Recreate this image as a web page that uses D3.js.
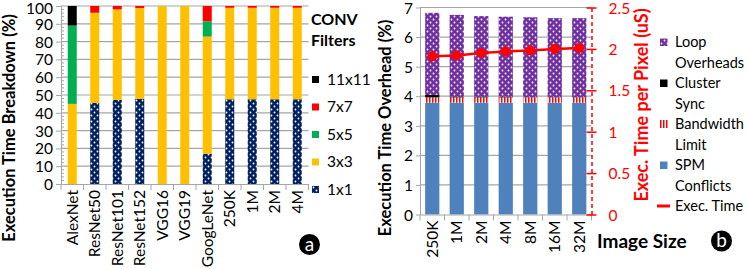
<!DOCTYPE html>
<meta charset="utf-8">
<style>
  body { margin: 0; background: #fff; }
  text { font-family: Lato, "Liberation Sans", sans-serif; }
  .grid line { stroke: #a6a6a6; stroke-width: 1.2; }
  .axis path, .axis line { stroke: #a6a6a6; }
</style>
<body>
<svg id="chart" width="748" height="269"></svg>
<script src="https://d3js.org/d3.v7.min.js"></script>
<script>
  // ---- panel a: CONV filter breakdown (%)
  var netNames = ["AlexNet", "ResNet50", "ResNet101", "ResNet152", "VGG16", "VGG19", "GoogLeNet", "250K", "1M", "2M", "4M"];
  var f1x1 = [0, 45.5, 47.2, 47.8, 0, 0, 17, 47.6, 47.6, 47.6, 47.6];
  var f3x3 = [45, 50.7, 50.9, 51.1, 100, 100, 65.8, 51.4, 51.4, 51.4, 51.4];
  var f5x5 = [44, 0, 0, 0, 0, 0, 8.6, 0, 0, 0, 0];
  var f7x7 = [0, 3.8, 1.9, 1.1, 0, 0, 8.6, 1, 1, 1, 1];
  var f11x11 = [11, 0, 0, 0, 0, 0, 0, 0, 0, 0, 0];
  var filterKeys = ["1x1", "3x3", "5x5", "7x7", "11x11"];
  var ticksA = [0, 10, 20, 30, 40, 50, 60, 70, 80, 90, 100];

  // ---- panel b: overhead vs image size
  var sizes = ["250K", "1M", "2M", "4M", "8M", "16M", "32M"];
  var spmConflicts = [3.78, 3.78, 3.78, 3.78, 3.78, 3.78, 3.78];
  var bwLimit = [0.18, 0.18, 0.18, 0.18, 0.18, 0.18, 0.18];
  var clusterSync = [0.08, 0.03, 0.03, 0.02, 0.01, 0.01, 0.01];
  var loopOverheads = [2.78, 2.76, 2.72, 2.71, 2.70, 2.67, 2.67];
  var execTime = [1.91, 1.92, 1.95, 1.97, 1.98, 2.0, 2.01];
  var overheadKeys = ["SPM Conflicts", "Bandwidth Limit", "Cluster Sync", "Loop Overheads"];
  var ticksB = [0, 1, 2, 3, 4, 5, 6, 7];
  var ticksB2 = [0, 0.5, 1, 1.5, 2, 2.5];

  var FS = 15.5; // tick / legend font size

  var svg = d3.select("#chart");
  var defs = svg.append("defs");

  function dots(id, color) {
    var p = defs.append("pattern").attr("id", id)
      .attr("patternUnits", "userSpaceOnUse").attr("width", 6).attr("height", 6);
    p.append("rect").attr("width", 6).attr("height", 6).attr("fill", color);
    p.append("circle").attr("cx", 1.5).attr("cy", 1.5).attr("r", 0.9).attr("fill", "#fff");
    p.append("circle").attr("cx", 4.5).attr("cy", 4.5).attr("r", 0.9).attr("fill", "#fff");
  }
  dots("dotNavy", "#002060");
  dots("dotPurple", "#7030a0");
  var st = defs.append("pattern").attr("id", "stripes")
    .attr("patternUnits", "userSpaceOnUse").attr("width", 3).attr("height", 3);
  st.append("rect").attr("width", 3).attr("height", 3).attr("fill", "#fff");
  st.append("rect").attr("width", 1.5).attr("height", 3).attr("fill", "#ff0000");

  var filterColor = {
    "1x1": "url(#dotNavy)", "3x3": "#ffc000", "5x5": "#00b050", "7x7": "#ff0000", "11x11": "#000"
  };
  var overheadColor = {
    "SPM Conflicts": "#4f81bd", "Bandwidth Limit": "url(#stripes)",
    "Cluster Sync": "#000", "Loop Overheads": "url(#dotPurple)"
  };

  // ================= panel a =================
  var A = { left: 61, right: 308.5, top: 6, bottom: 184 };
  var xa = d3.scaleBand().domain(netNames).range([A.left, A.right]);
  var ya = d3.scaleLinear().domain([0, 100]).range([A.bottom, A.top]);

  var tableA = netNames.map(function(n, i) {
    return { name: n, "1x1": f1x1[i], "3x3": f3x3[i], "5x5": f5x5[i], "7x7": f7x7[i], "11x11": f11x11[i] };
  });

  svg.append("g").attr("class", "grid")
    .selectAll("line").data(ticksA.slice(1)).enter().append("line")
    .attr("x1", A.left).attr("x2", A.right)
    .attr("y1", function(d) { return ya(d); }).attr("y2", function(d) { return ya(d); });

  // minor ticks inside the axis
  svg.append("g").selectAll("line").data(d3.range(2, 100, 2).filter(function(d) { return d % 10; }))
    .enter().append("line")
    .attr("x1", A.left).attr("x2", A.left + 3)
    .attr("y1", function(d) { return ya(d); }).attr("y2", function(d) { return ya(d); })
    .attr("stroke", "#a6a6a6");

  svg.append("g").selectAll("g").data(d3.stack().keys(filterKeys)(tableA)).enter()
    .append("g").attr("fill", function(d) { return filterColor[d.key]; })
    .selectAll("rect").data(function(d) { return d; }).enter().append("rect")
    .attr("x", function(d) { return xa(d.data.name) + xa.bandwidth() * 0.3; })
    .attr("width", xa.bandwidth() * 0.4)
    .attr("y", function(d) { return ya(d[1]); })
    .attr("height", function(d) { return ya(d[0]) - ya(d[1]); });

  svg.append("g").attr("class", "axis")
    .attr("transform", "translate(" + A.left + ",0)")
    .call(d3.axisLeft(ya).tickValues(ticksA).tickSize(5).tickSizeOuter(0))
    .call(function(g) {
      g.selectAll("text").attr("font-size", FS).attr("fill", "#000").attr("dy", "0.36em")
        .attr("y", function(d) { return d === 100 ? 1.5 : 0; });
    });

  var xAxisA = svg.append("g").attr("class", "axis")
    .attr("transform", "translate(0," + A.bottom + ")")
    .call(d3.axisBottom(xa).tickSize(0).tickSizeOuter(0));
  xAxisA.selectAll("text")
    .attr("font-size", FS).attr("fill", "#000")
    .attr("transform", "rotate(-90)")
    .attr("text-anchor", "end")
    .attr("x", -6).attr("y", 0).attr("dy", "0.35em");
  xAxisA.selectAll(".bnd").data(d3.range(netNames.length + 1)).enter().append("line")
    .attr("x1", function(i) { return A.left + i * xa.step(); })
    .attr("x2", function(i) { return A.left + i * xa.step(); })
    .attr("y1", 0).attr("y2", 6);

  svg.append("text")
    .attr("transform", "translate(15,128) rotate(-90)")
    .attr("text-anchor", "middle").attr("font-size", 16.5).attr("font-weight", "bold")
    .text("Execution Time Breakdown (%)");

  var legA = svg.append("g");
  legA.append("text").attr("x", 311).attr("y", 25).attr("font-size", 16).attr("font-weight", "bold").text("CONV");
  legA.append("text").attr("x", 311).attr("y", 46).attr("font-size", 16).attr("font-weight", "bold").text("Filters");
  var legRows = filterKeys.slice().reverse();
  legRows.forEach(function(k, i) {
    var cy = 79.5 + i * 27.5;
    legA.append("rect").attr("x", 312).attr("y", cy - 3.5).attr("width", 7).attr("height", 7)
      .attr("fill", filterColor[k]);
    legA.append("text").attr("x", 327).attr("y", cy).attr("dy", "0.35em").attr("font-size", FS).text(k);
  });

  function badge(cx, cy, letter) {
    svg.append("circle").attr("cx", cx).attr("cy", cy).attr("r", 10.5).attr("fill", "#000");
    svg.append("text").attr("x", cx).attr("y", cy).attr("dy", "0.33em")
      .attr("text-anchor", "middle").attr("font-size", 19).attr("fill", "#fff").text(letter);
  }
  badge(309.5, 244.5, "a");

  // ================= panel b =================
  var B = { left: 420, right: 591.5, top: 7.5, bottom: 214.5 };
  var xb = d3.scaleBand().domain(sizes).range([B.left, B.right]);
  var yb = d3.scaleLinear().domain([0, 7]).range([B.bottom, B.top]);
  var yb2 = d3.scaleLinear().domain([0, 2.5]).range([B.bottom, B.top]);

  var tableB = sizes.map(function(s, i) {
    return { size: s, "SPM Conflicts": spmConflicts[i], "Bandwidth Limit": bwLimit[i],
      "Cluster Sync": clusterSync[i], "Loop Overheads": loopOverheads[i] };
  });

  svg.append("g").attr("class", "grid")
    .selectAll("line").data(ticksB.slice(1)).enter().append("line")
    .attr("x1", B.left).attr("x2", B.right)
    .attr("y1", function(d) { return yb(d); }).attr("y2", function(d) { return yb(d); });

  svg.append("g").selectAll("g").data(d3.stack().keys(overheadKeys)(tableB)).enter()
    .append("g").attr("fill", function(d) { return overheadColor[d.key]; })
    .selectAll("rect").data(function(d) { return d; }).enter().append("rect")
    .attr("x", function(d) { return xb(d.data.size) + xb.bandwidth() * 0.21; })
    .attr("width", xb.bandwidth() * 0.58)
    .attr("y", function(d) { return yb(d[1]); })
    .attr("height", function(d) { return yb(d[0]) - yb(d[1]); });

  svg.append("g").attr("class", "axis")
    .attr("transform", "translate(" + B.left + ",0)")
    .call(d3.axisLeft(yb).tickValues(ticksB).tickFormat(d3.format("d")).tickSize(4).tickSizeOuter(0))
    .call(function(g) {
      g.selectAll("text").attr("font-size", FS).attr("fill", "#000").attr("dy", "0.36em");
    });

  var xAxisB = svg.append("g").attr("class", "axis")
    .attr("transform", "translate(0," + B.bottom + ")")
    .call(d3.axisBottom(xb).tickSize(0).tickSizeOuter(0));
  xAxisB.selectAll("text")
    .attr("font-size", FS).attr("fill", "#000")
    .attr("transform", "rotate(-90)")
    .attr("text-anchor", "end")
    .attr("x", -6).attr("y", 0).attr("dy", "0.35em");
  xAxisB.selectAll(".bnd").data(d3.range(sizes.length + 1)).enter().append("line")
    .attr("x1", function(i) { return B.left + i * xb.step(); })
    .attr("x2", function(i) { return B.left + i * xb.step(); })
    .attr("y1", 0).attr("y2", 6);

  // right axis (red, dashed)
  var rAxis = svg.append("g")
    .attr("transform", "translate(" + B.right + ",0)")
    .call(d3.axisRight(yb2).tickValues(ticksB2).tickFormat(d3.format("~g")).tickSize(5).tickSizeOuter(0));
  rAxis.select(".domain").attr("stroke", "#ff0000").attr("stroke-width", 1.5).attr("stroke-dasharray", "4,3");
  rAxis.selectAll(".tick line").attr("stroke", "#ff0000").attr("stroke-width", 1.5).attr("x1", -5);
  rAxis.selectAll("text").attr("font-size", FS).attr("fill", "#ff0000").attr("x", 17).attr("dy", "0.36em");

  var line = d3.line()
    .x(function(d, i) { return xb(sizes[i]) + xb.bandwidth() / 2; })
    .y(function(d) { return yb2(d); });
  svg.append("path").datum(execTime).attr("d", line)
    .attr("fill", "none").attr("stroke", "#ff0000").attr("stroke-width", 2.5);
  svg.append("g").selectAll("circle").data(execTime).enter().append("circle")
    .attr("cx", function(d, i) { return xb(sizes[i]) + xb.bandwidth() / 2; })
    .attr("cy", function(d) { return yb2(d); })
    .attr("r", 5).attr("fill", "#ff0000");

  svg.append("text")
    .attr("transform", "translate(391,128) rotate(-90)")
    .attr("text-anchor", "middle").attr("font-size", 16.5).attr("font-weight", "bold")
    .text("Execution Time Overhead (%)");
  svg.append("text")
    .attr("transform", "translate(648,105) rotate(-90)")
    .attr("text-anchor", "middle").attr("font-size", 18).attr("font-weight", "bold")
    .attr("fill", "#ff0000")
    .text("Exec. Time per Pixel (uS)");

  svg.append("text").attr("x", 597).attr("y", 241).attr("dy", "0.35em")
    .attr("font-size", 19).attr("font-weight", "bold").text("Image Size");
  badge(721.5, 241, "b");

  // legend b
  var LFS = 14.5;
  var legB = svg.append("g");
  var legItems = [
    { key: "Loop Overheads", lines: ["Loop", "Overheads"], y: 42 },
    { key: "Cluster Sync", lines: ["Cluster", "Sync"], y: 83 },
    { key: "Bandwidth Limit", lines: ["Bandwidth", "Limit"], y: 124 },
    { key: "SPM Conflicts", lines: ["SPM", "Conflicts"], y: 165 }
  ];
  legItems.forEach(function(it) {
    if (it.key === "Bandwidth Limit") {
      [0, 3, 6].forEach(function(dx) {
        legB.append("rect").attr("x", 660 + dx).attr("y", it.y - 4).attr("width", 1.5).attr("height", 8)
          .attr("fill", "#ff0000");
      });
    } else {
      legB.append("rect").attr("x", 660).attr("y", it.y - 3.5).attr("width", 7.5).attr("height", 7.5)
        .attr("fill", overheadColor[it.key]);
    }
    it.lines.forEach(function(t, j) {
      legB.append("text").attr("x", 675).attr("y", it.y + j * 20.5).attr("dy", "0.35em")
        .attr("font-size", LFS).text(t);
    });
  });
  legB.append("line").attr("x1", 657).attr("x2", 670).attr("y1", 206).attr("y2", 206)
    .attr("stroke", "#ff0000").attr("stroke-width", 3);
  legB.append("text").attr("x", 675).attr("y", 206).attr("dy", "0.35em").attr("font-size", LFS).text("Exec. Time");
</script>
</body>
